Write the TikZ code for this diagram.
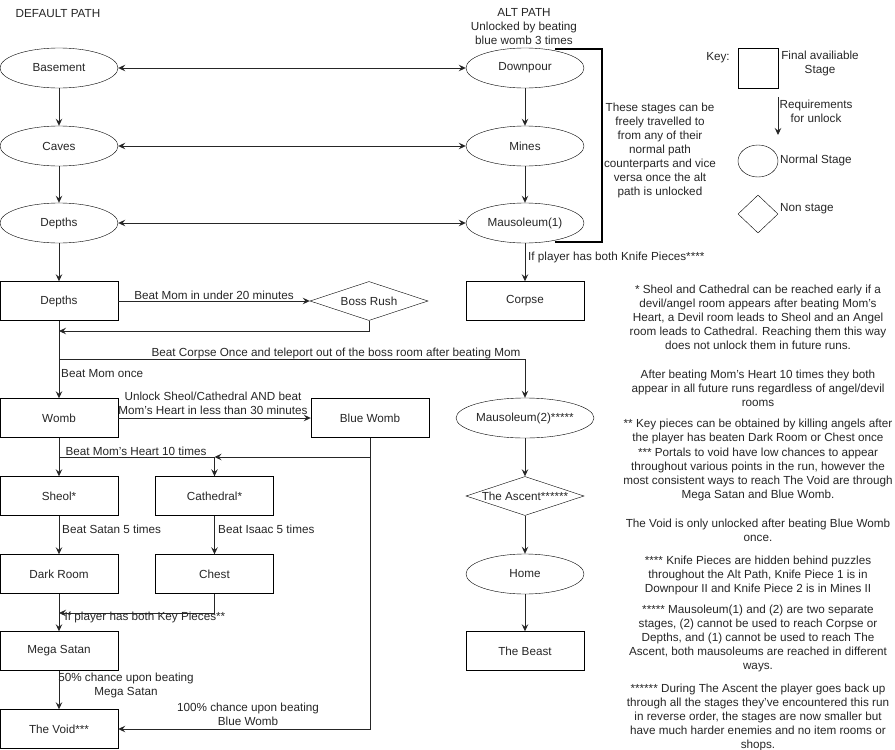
\documentclass[tikz,border=0pt]{standalone}
\usepackage{fontspec}
\setmainfont{Liberation Sans}
\usetikzlibrary{shapes.geometric,arrows.meta}
\begin{document}
\begin{tikzpicture}[x=1pt,y=-1pt,
  every node/.style={font=\fontsize{11.7}{14}\selectfont, text=black!85, inner sep=0pt},
  ell/.style={draw, ellipse, minimum width=118pt, minimum height=40pt},
  stagebox/.style={draw, rectangle, minimum width=118pt, minimum height=39pt},
  dia/.style={draw, diamond, minimum width=118pt, minimum height=39pt},
  lbl/.style={align=center},
  note/.style={align=center},
  conn/.style={draw=black!85, line width=0.9pt},
  arr/.style={conn, -{Stealth[length=7pt,width=6.5pt,inset=2.5pt]}},
  darr/.style={conn, {Stealth[length=7pt,width=6.5pt,inset=2.5pt]}-{Stealth[length=7pt,width=6.5pt,inset=2.5pt]}}
]
\useasboundingbox (0,0) rectangle (895,750);

% headers
\node (hdef) at (58,14) {DEFAULT PATH};
\node[lbl] (halt) at (524,27) {ALT PATH\\Unlocked by beating\\blue womb 3 times};

% default path
\node[ell] (bas) at (59,68) {Basement};
\node[ell] (cav) at (59,146) {Caves};
\node[ell] (dep1) at (59,223) {Depths};
\node[stagebox] (dep2) at (59,301) {Depths};
\node[dia, label={center:Boss Rush}] (boss) at (369,301) {};
\node[stagebox] (womb) at (59,418) {Womb};
\node[stagebox] (bwomb) at (370,418) {Blue Womb};
\node[stagebox] (sheol) at (59,496) {Sheol*};
\node[stagebox] (cath) at (214.5,496) {Cathedral*};
\node[stagebox] (dark) at (59,574) {Dark Room};
\node[stagebox] (chest) at (214.5,574) {Chest};
\node[stagebox] (mega) at (59,651) {Mega Satan};
\node[stagebox] (void) at (59,729) {The Void***};

% alt path
\node[ell] (dow) at (525,68) {Downpour};
\node[ell] (min) at (525,146) {Mines};
\node[ell] (mau1) at (525,223) {Mausoleum(1)};
\node[stagebox] (cor) at (525,301) {Corpse};
\node[ell] (mau2) at (525,418) {Mausoleum(2)*****};
\node[dia, label={center:The Ascent******}] (asc) at (525,496) {};
\node[ell] (home) at (525,574) {Home};
\node[stagebox] (beast) at (525,651) {The Beast};

% bracket
\draw[black, line width=1.8pt] (555,49) -- (602,49) -- (602,242) -- (555,242);
\node[note] (brtext) at (660,150) {These stages can be\\freely travelled to\\from any of their\\normal path\\counterparts and vice\\versa once the alt\\path is unlocked};

% key
\node (keyt) at (718,58) {Key:};
\node[draw, minimum width=40pt, minimum height=40pt] (ksq) at (758,68) {};
\node[lbl] (ksqt) at (820,63) {Final availiable\\Stage};
\coordinate (ka1) at (778,97);
\coordinate (ka2) at (778,135);
\draw[arr] (ka1) -- (ka2);
\node[lbl] (kat) at (816,111) {Requirements\\for unlock};
\node[draw, ellipse, minimum width=40pt, minimum height=32pt] (kel) at (758,161) {};
\node[anchor=west] (kelt) at (780,160) {Normal Stage};
\node[draw, diamond, minimum width=40pt, minimum height=38pt] (kdi) at (758,214) {};
\node[anchor=west] (kdit) at (780,209) {Non stage};

% connectors default path
\draw[arr] (bas) -- (cav);
\draw[arr] (cav) -- (dep1);
\draw[arr] (dep1) -- (dep2);
\draw[darr] (bas) -- (dow);
\draw[darr] (cav) -- (min);
\draw[darr] (dep1) -- (mau1);
\draw[arr] (dow) -- (min);
\draw[arr] (min) -- (mau1);
\draw[arr] (mau1) -- (cor);
\node[anchor=west] (lknife) at (528,257) {If player has both Knife Pieces****};

\draw[arr] (dep2) -- (boss);
\node (lboss) at (214,295) {Beat Mom in under 20 minutes};
\coordinate (j1) at (59,331);
\draw[arr] (boss.south) |- (j1);
\draw[arr] (dep2) -- (womb);
\coordinate (j2) at (59,359);
\draw[arr] (j2) -| (mau2.north);
\node (lcorpse) at (336,353) {Beat Corpse Once and teleport out of the boss room after beating Mom};
\node[anchor=west] (lmom) at (61,374) {Beat Mom once};

\draw[arr] (womb) -- (bwomb);
\node[lbl] (lblue) at (213,403) {Unlock Sheol/Cathedral AND beat\\Mom's Heart in less than 30 minutes};

\draw[arr] (womb) -- (sheol);
\coordinate (j3) at (59,457);
\draw[arr] (j3) -| (cath.north);
\coordinate (j4) at (cath.north |- j3);
\draw[arr] (bwomb.south) |- (j4);
\node (lheart) at (136,451) {Beat Mom's Heart 10 times};

\draw[arr] (sheol) -- (dark);
\node[anchor=west] (lsatan) at (62,529) {Beat Satan 5 times};
\draw[arr] (cath) -- (chest);
\node[anchor=west] (lisaac) at (218,529) {Beat Isaac 5 times};
\draw[arr] (dark) -- (mega);
\coordinate (j5) at (59,613);
\draw[arr] (chest.south) |- (j5);
\node (lkey) at (145,617) {If player has both Key Pieces**};
\draw[arr] (mega) -- (void);
\node[lbl] (l50) at (126,685) {50\% chance upon beating\\Mega Satan};
\draw[arr] (bwomb.south) |- (void.east);
\node[lbl] (l100) at (248,714) {100\% chance upon beating\\Blue Womb};

% alt lower
\draw[arr] (mau2) -- (asc);
\draw[arr] (asc) -- (home);
\draw[arr] (home) -- (beast);

% notes
\node[note] (n1) at (758,317) {* Sheol and Cathedral can be reached early if a\\devil/angel room appears after beating Mom's\\Heart, a Devil room leads to Sheol and an Angel\\room leads to Cathedral. Reaching them this way\\does not unlock them in future runs.};
\node[note] (n2) at (758,388) {After beating Mom's Heart 10 times they both\\appear in all future runs regardless of angel/devil\\rooms};
\node[note] (n3) at (758,431) {** Key pieces can be obtained by killing angels after\\the player has beaten Dark Room or Chest once};
\node[note] (n4) at (758,474) {*** Portals to void have low chances to appear\\throughout various points in the run, however the\\most consistent ways to reach The Void are through\\Mega Satan and Blue Womb.};
\node[note] (n5) at (758,530) {The Void is only unlocked after beating Blue Womb\\once.};
\node[note] (n6) at (758,575) {**** Knife Pieces are hidden behind puzzles\\throughout the Alt Path, Knife Piece 1 is in\\Downpour II and Knife Piece 2 is in Mines II};
\node[note] (n7) at (758,638) {***** Mausoleum(1) and (2) are two separate\\stages, (2) cannot be used to reach Corpse or\\Depths, and (1) cannot be used to reach The\\Ascent, both mausoleums are reached in different\\ways.};
\node[note] (n8) at (758,717) {****** During The Ascent the player goes back up\\through all the stages they've encountered this run\\in reverse order, the stages are now smaller but\\have much harder enemies and no item rooms or\\shops.};
\end{tikzpicture}
\end{document}
